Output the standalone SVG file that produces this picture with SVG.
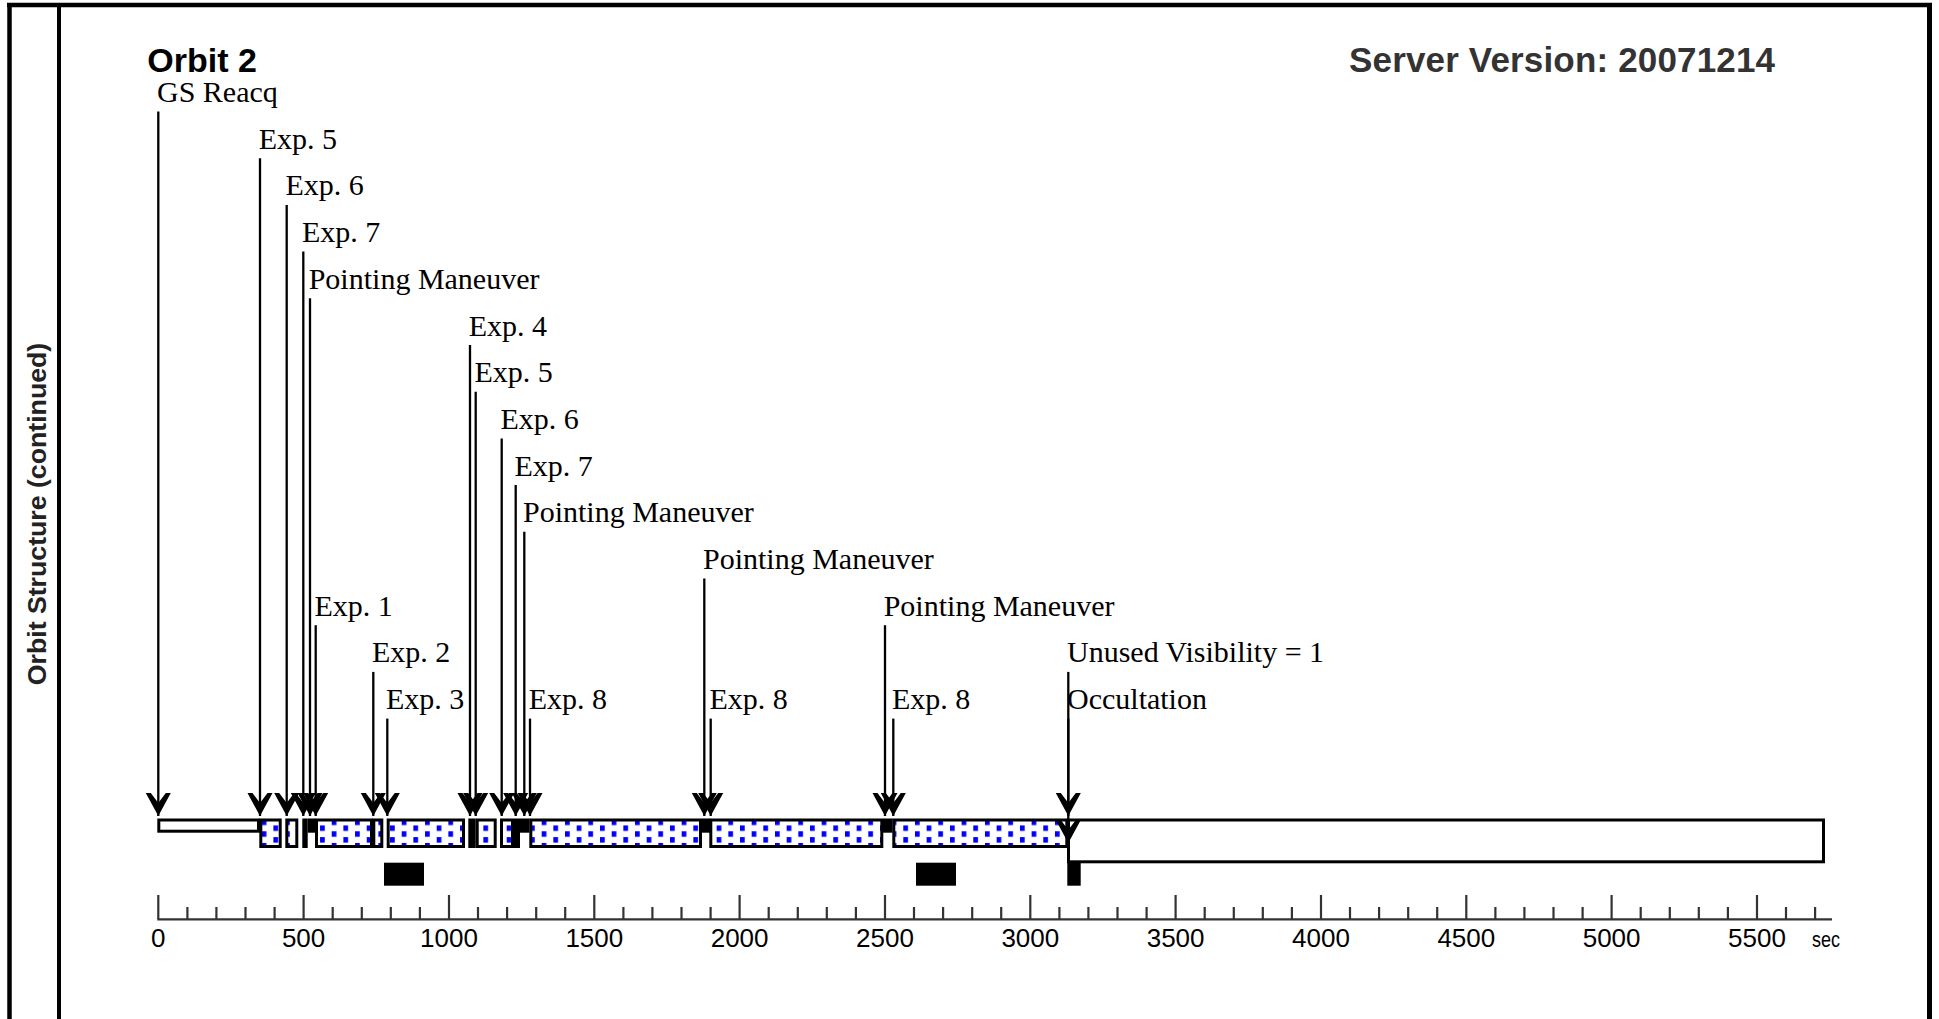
<svg xmlns="http://www.w3.org/2000/svg" width="1939" height="1019" viewBox="0 0 1939 1019">
<style>
.frame{stroke:#000;fill:none}
.lbl{font-family:"Liberation Serif","Times New Roman",serif;font-size:30px;fill:#000}
.ttl{font-family:"Liberation Sans",Arial,sans-serif;font-weight:bold}
.ax{font-family:"Liberation Sans",Arial,sans-serif;font-size:26px;fill:#000;text-anchor:middle}
.conn{stroke:#000;stroke-width:2.3;fill:none;marker-end:url(#ah)}
.thin{fill:#fff;stroke:#000;stroke-width:3}
.dot{fill:url(#dots);stroke:#000;stroke-width:3}
.big{fill:#fff;stroke:#000;stroke-width:3}
.blk{fill:#000}
</style>
<defs>
<marker id="ah" markerUnits="userSpaceOnUse" viewBox="-24 -13 25 26" markerWidth="25" markerHeight="26" refX="0" refY="0" orient="auto" overflow="visible">
<path d="M0,0 L-23,-12.5 L-23,-7.5 L-13,0 L-23,7.5 L-23,12.5 Z" fill="#000"/>
</marker>
<pattern id="dots" patternUnits="userSpaceOnUse" x="5.1" y="819.6" width="23.33" height="11.67">
<rect width="23.33" height="11.67" fill="#fff"/>
<rect x="0" y="0" width="4.7" height="5.5" fill="#0000ff"/>
<rect x="11.67" y="5.83" width="4.7" height="5.5" fill="#0000ff"/>
</pattern>
</defs>
<rect width="1939" height="1019" fill="#fff"/>
<g id="frame">
<line class="frame" x1="7" y1="5" x2="1932" y2="5" stroke-width="4.5"/>
<line class="frame" x1="9.5" y1="3" x2="9.5" y2="1019" stroke-width="4.5"/>
<line class="frame" x1="59" y1="3" x2="59" y2="1019" stroke-width="4"/>
<line class="frame" x1="1929.5" y1="3" x2="1929.5" y2="1019" stroke-width="5"/>
<text class="ttl" transform="translate(46,514) rotate(-90)" font-size="26.7" fill="#222" text-anchor="middle">Orbit Structure (continued)</text>
</g>
<g id="titles">
<text class="ttl" x="147.3" y="71.5" font-size="34" fill="#000">Orbit 2</text>
<text class="ttl" x="1349" y="71.5" font-size="35" fill="#333" textLength="426" lengthAdjust="spacing">Server Version: 20071214</text>
</g>
<g id="bars">
<rect id="bar-gs" class="thin" x="158.8" y="820" width="99.7" height="11.2"/>
<rect id="bar-exp5a" class="dot" x="260.8" y="820" width="19.4" height="26.5"/>
<rect id="bar-exp6a" class="dot" x="286.8" y="820" width="10" height="26.5"/>
<rect id="bar-exp7a" class="blk" x="302.3" y="818.5" width="5.4" height="29.5"/>
<rect id="bar-pm1" class="blk" x="307.7" y="818.5" width="7.8" height="14.2"/>
<rect id="bar-exp1" class="dot" x="316.5" y="820" width="55" height="26.5"/>
<rect id="bar-exp2" class="dot" x="373.8" y="820" width="8" height="26.5"/>
<rect id="bar-exp3" class="dot" x="388.2" y="820" width="75.3" height="26.5"/>
<rect id="bar-exp4" class="blk" x="468.3" y="818.5" width="7.4" height="29.5"/>
<rect id="bar-exp5b" class="dot" x="477.2" y="820" width="18" height="26.5"/>
<rect id="bar-exp6b" class="dot" x="501.5" y="820" width="11" height="26.5"/>
<rect id="bar-exp7b" class="blk" x="514" y="818.5" width="6" height="29.5"/>
<rect id="bar-pm2" class="blk" x="520" y="818.5" width="9.5" height="14.2"/>
<rect id="bar-exp8a" class="dot" x="530.8" y="820" width="169.7" height="26.5"/>
<rect id="bar-pm3" class="blk" x="702" y="818.5" width="8" height="14.2"/>
<rect id="bar-exp8b" class="dot" x="710.8" y="820" width="171" height="26.5"/>
<rect id="bar-pm4" class="blk" x="883" y="818.5" width="9.5" height="14.2"/>
<rect id="bar-exp8c" class="dot" x="893.8" y="820" width="173" height="26.5"/>
<rect id="bar-occ" class="big" x="1068.5" y="820" width="755" height="41.8"/>
<rect id="blk1" class="blk" x="384" y="862.7" width="40" height="23"/>
<rect id="blk2" class="blk" x="916" y="862.7" width="40" height="23"/>
<rect id="blk3" class="blk" x="1067.3" y="862.7" width="13.4" height="23"/>
</g>
<g id="axis">
<line x1="157.3" y1="919.3" x2="1832" y2="919.3" stroke="#333" stroke-width="2.3"/>
<path stroke="#333" stroke-width="2.2" fill="none" d="M158.3,895V919 M303.6,895V919 M449,895V919 M594.3,895V919 M739.6,895V919 M885,895V919 M1030.3,895V919 M1175.6,895V919 M1321,895V919 M1466.3,895V919 M1611.6,895V919 M1757,895V919"/>
<path stroke="#333" stroke-width="2.2" fill="none" d="M187.4,907V919 M216.4,907V919 M245.5,907V919 M274.6,907V919 M332.7,907V919 M361.8,907V919 M390.8,907V919 M419.9,907V919 M478,907V919 M507.1,907V919 M536.2,907V919 M565.2,907V919 M623.4,907V919 M652.4,907V919 M681.5,907V919 M710.6,907V919 M768.7,907V919 M797.8,907V919 M826.8,907V919 M855.9,907V919 M914,907V919 M943.1,907V919 M972.2,907V919 M1001.2,907V919 M1059.4,907V919 M1088.4,907V919 M1117.5,907V919 M1146.6,907V919 M1204.7,907V919 M1233.8,907V919 M1262.8,907V919 M1291.9,907V919 M1350,907V919 M1379.1,907V919 M1408.2,907V919 M1437.2,907V919 M1495.4,907V919 M1524.4,907V919 M1553.5,907V919 M1582.6,907V919 M1640.7,907V919 M1669.8,907V919 M1698.8,907V919 M1727.9,907V919 M1786,907V919 M1815.1,907V919"/>
<text class="ax" x="158.3" y="947">0</text>
<text class="ax" x="303.6" y="947">500</text>
<text class="ax" x="449" y="947">1000</text>
<text class="ax" x="594.3" y="947">1500</text>
<text class="ax" x="739.6" y="947">2000</text>
<text class="ax" x="885" y="947">2500</text>
<text class="ax" x="1030.3" y="947">3000</text>
<text class="ax" x="1175.6" y="947">3500</text>
<text class="ax" x="1321" y="947">4000</text>
<text class="ax" x="1466.3" y="947">4500</text>
<text class="ax" x="1611.6" y="947">5000</text>
<text class="ax" x="1757" y="947">5500</text>
<text x="1812" y="947" font-family="Liberation Sans, Arial, sans-serif" font-size="22" textLength="28" lengthAdjust="spacingAndGlyphs" fill="#000">sec</text>
</g>
<g id="connectors">
<line class="conn" x1="158.3" y1="111.5" x2="158.3" y2="816"/>
<line class="conn" x1="260" y1="158.2" x2="260" y2="816"/>
<line class="conn" x1="286.7" y1="204.9" x2="286.7" y2="816"/>
<line class="conn" x1="303.3" y1="251.6" x2="303.3" y2="816"/>
<line class="conn" x1="310" y1="298.3" x2="310" y2="816"/>
<line class="conn" x1="470" y1="345" x2="470" y2="816"/>
<line class="conn" x1="475.7" y1="391.7" x2="475.7" y2="816"/>
<line class="conn" x1="501.7" y1="438.4" x2="501.7" y2="816"/>
<line class="conn" x1="515.7" y1="485.1" x2="515.7" y2="816"/>
<line class="conn" x1="524.3" y1="531.8" x2="524.3" y2="816"/>
<line class="conn" x1="704.3" y1="578.5" x2="704.3" y2="816"/>
<line class="conn" x1="315.7" y1="625.2" x2="315.7" y2="816"/>
<line class="conn" x1="885" y1="625.2" x2="885" y2="816"/>
<line class="conn" x1="373.3" y1="671.9" x2="373.3" y2="816"/>
<line class="conn" x1="1068.3" y1="671.9" x2="1068.3" y2="816"/>
<line class="conn" x1="387.3" y1="718.6" x2="387.3" y2="816"/>
<line class="conn" x1="530" y1="718.6" x2="530" y2="816"/>
<line class="conn" x1="710.7" y1="718.6" x2="710.7" y2="816"/>
<line class="conn" x1="893.3" y1="718.6" x2="893.3" y2="816"/>
<line class="conn" x1="1068.3" y1="718.6" x2="1068.3" y2="843"/>
</g>
<g id="ev-gs"><text class="lbl" x="157" y="102">GS Reacq</text></g>
<g id="ev-exp5a"><text class="lbl" x="258.7" y="148.7">Exp. 5</text></g>
<g id="ev-exp6a"><text class="lbl" x="285.4" y="195.4">Exp. 6</text></g>
<g id="ev-exp7a"><text class="lbl" x="302" y="242.1">Exp. 7</text></g>
<g id="ev-pm1"><text class="lbl" x="308.7" y="288.8">Pointing Maneuver</text></g>
<g id="ev-exp4"><text class="lbl" x="468.7" y="335.5">Exp. 4</text></g>
<g id="ev-exp5b"><text class="lbl" x="474.4" y="382.2">Exp. 5</text></g>
<g id="ev-exp6b"><text class="lbl" x="500.4" y="428.9">Exp. 6</text></g>
<g id="ev-exp7b"><text class="lbl" x="514.4" y="475.6">Exp. 7</text></g>
<g id="ev-pm2"><text class="lbl" x="523" y="522.3">Pointing Maneuver</text></g>
<g id="ev-pm3"><text class="lbl" x="703" y="569">Pointing Maneuver</text></g>
<g id="ev-exp1"><text class="lbl" x="314.4" y="615.7">Exp. 1</text></g>
<g id="ev-pm4"><text class="lbl" x="883.7" y="615.7">Pointing Maneuver</text></g>
<g id="ev-exp2"><text class="lbl" x="372" y="662.4">Exp. 2</text></g>
<g id="ev-uv"><text class="lbl" x="1067" y="662.4">Unused Visibility = 1</text></g>
<g id="ev-exp3"><text class="lbl" x="386" y="709.1">Exp. 3</text></g>
<g id="ev-exp8a"><text class="lbl" x="528.7" y="709.1">Exp. 8</text></g>
<g id="ev-exp8b"><text class="lbl" x="709.4" y="709.1">Exp. 8</text></g>
<g id="ev-exp8c"><text class="lbl" x="892" y="709.1">Exp. 8</text></g>
<g id="ev-occ"><text class="lbl" x="1067" y="709.1">Occultation</text></g>
</svg>
